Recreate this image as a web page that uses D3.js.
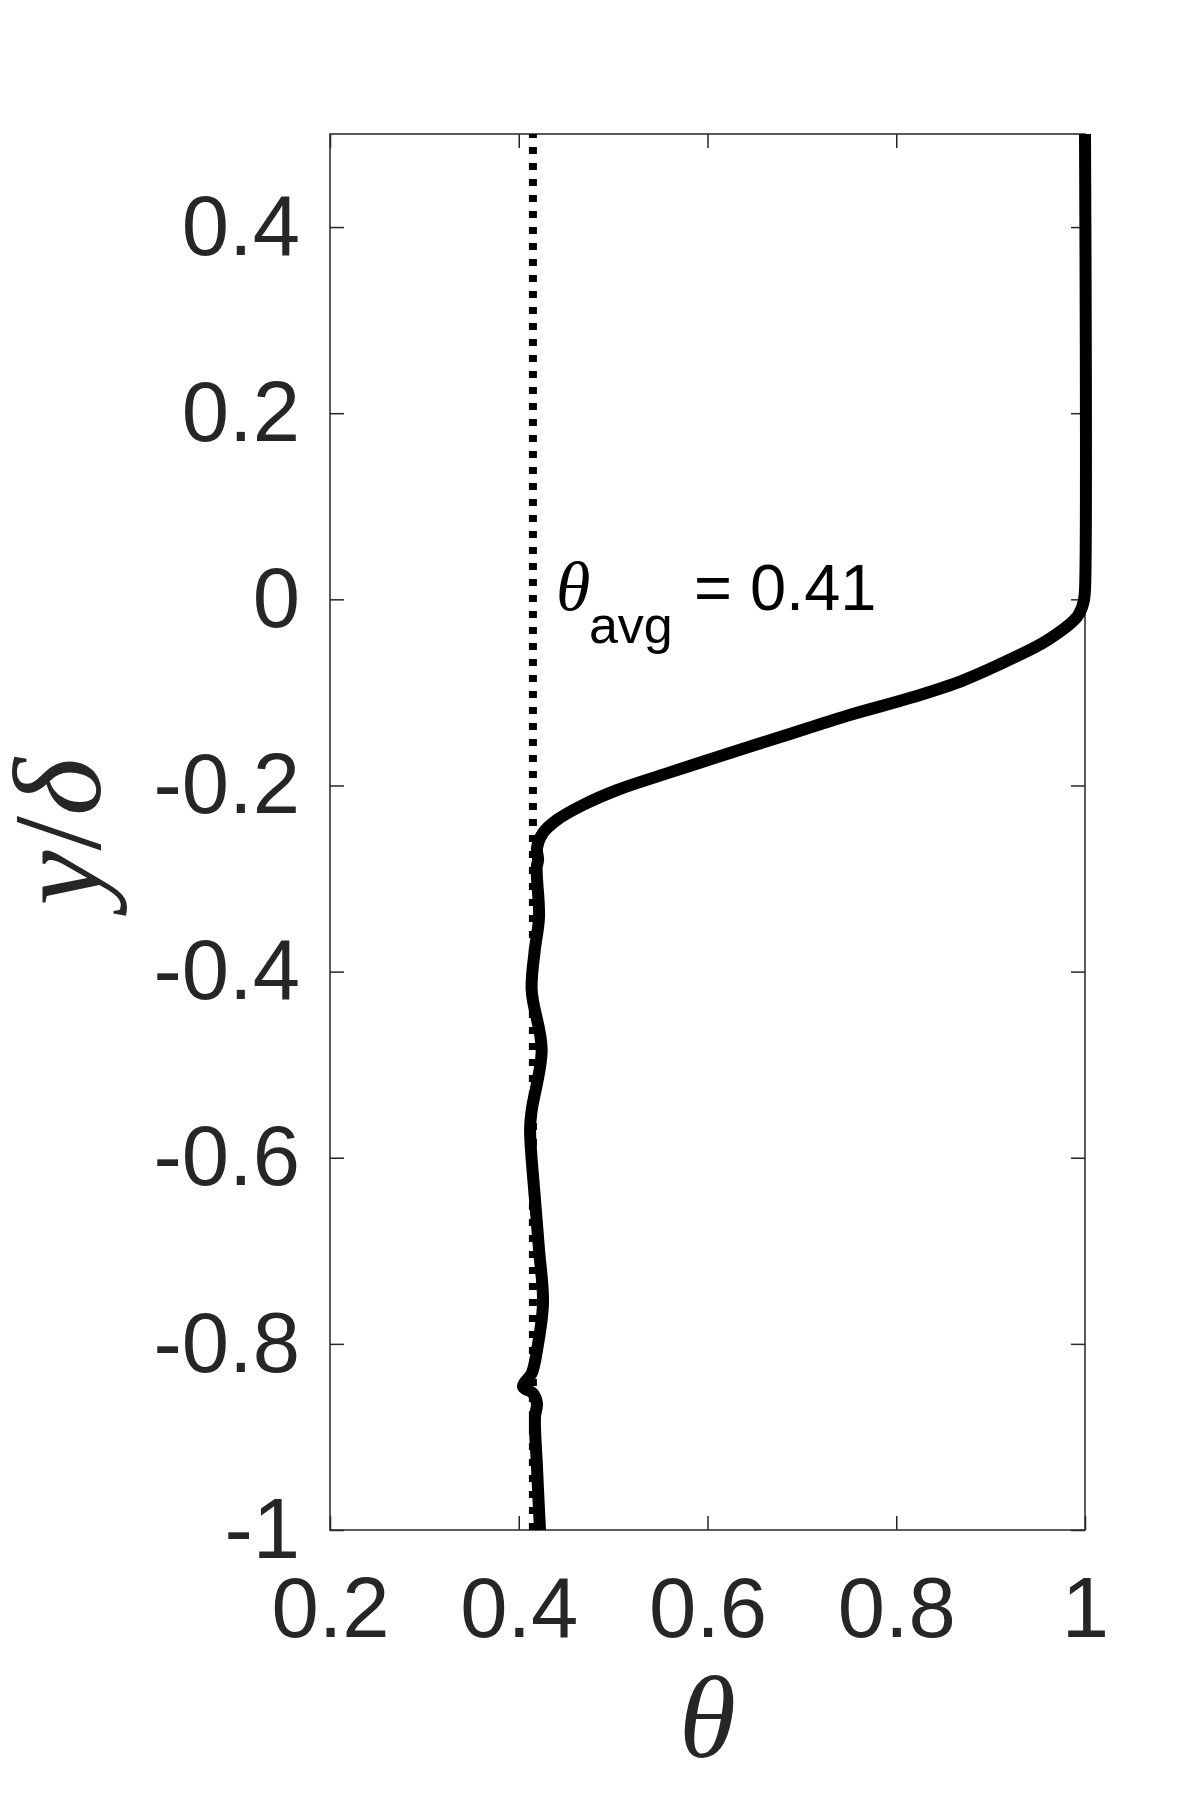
<!doctype html>
<meta charset="utf-8">
<script src="https://d3js.org/d3.v7.min.js"></script>
<style>
  body { margin: 0; background: #fff; }
  .tick text { font-family: "Liberation Sans", Arial, sans-serif; }
</style>
<body>
<svg width="1200" height="1800"></svg>
<script>
  // profile: y/delta and theta
  var yDelta = [0.5, 0.01, 0.0, -0.008, -0.019, -0.044, -0.063, -0.087, -0.105, -0.125,
    -0.148, -0.164, -0.187, -0.205, -0.221, -0.237, -0.251, -0.267, -0.280, -0.288,
    -0.341, -0.377, -0.420, -0.484, -0.549, -0.570, -0.645, -0.699, -0.756, -0.807,
    -0.831, -0.846, -0.853, -0.864, -0.879, -0.932, -1.0];
  var theta = [1.0, 1.0, 0.999, 0.997, 0.9915, 0.960, 0.924, 0.871, 0.818, 0.748,
    0.677, 0.627, 0.557, 0.504, 0.468, 0.4405, 0.4257, 0.4193, 0.4205, 0.419,
    0.4215, 0.417, 0.4137, 0.4243, 0.4137, 0.412, 0.4172, 0.4215, 0.4257, 0.4193,
    0.414, 0.4045, 0.415, 0.4193, 0.4172, 0.4193, 0.4225];

  var thetaAvg = 0.415;
  var avgLabel = "0.41";

  var xTicks = [0.2, 0.4, 0.6, 0.8, 1];
  var yTicks = [-1, -0.8, -0.6, -0.4, -0.2, 0, 0.2, 0.4];

  var svg = d3.select("svg");
  var mLeft = 330, mRight = 1085, mTop = 134, mBottom = 1530;
  var axisColor = "#262626";

  var x = d3.scaleLinear().domain([0.2, 1]).range([mLeft, mRight]);
  var y = d3.scaleLinear().domain([-1, 0.5]).range([mBottom, mTop]);

  var fmt = function (d) { return String(d); };

  // axes, ticks inside and mirrored on all sides
  function styleAxis(g) {
    g.selectAll(".domain").remove();
    g.selectAll(".tick line").attr("stroke", axisColor).attr("stroke-width", 1.5);
    g.selectAll(".tick text").attr("fill", axisColor).attr("font-size", 85);
  }

  svg.append("g")
    .attr("transform", "translate(0," + mBottom + ")")
    .call(d3.axisBottom(x).tickValues(xTicks).tickSize(-14).tickFormat(fmt))
    .call(styleAxis)
    .selectAll(".tick text").attr("dy", "0.71em").attr("y", 47);

  svg.append("g")
    .attr("transform", "translate(0," + mTop + ")")
    .call(d3.axisTop(x).tickValues(xTicks).tickSize(-14).tickFormat(""))
    .call(styleAxis);

  svg.append("g")
    .attr("transform", "translate(" + mLeft + ",0)")
    .call(d3.axisLeft(y).tickValues(yTicks).tickSize(-14).tickFormat(fmt))
    .call(styleAxis)
    .selectAll(".tick text").attr("x", -30);

  svg.append("g")
    .attr("transform", "translate(" + mRight + ",0)")
    .call(d3.axisRight(y).tickValues(yTicks).tickSize(-14).tickFormat(""))
    .call(styleAxis);

  // box
  svg.append("rect")
    .attr("x", mLeft).attr("y", mTop)
    .attr("width", mRight - mLeft).attr("height", mBottom - mTop)
    .attr("fill", "none")
    .attr("stroke", axisColor)
    .attr("stroke-width", 1.5);

  // average line
  svg.append("line")
    .attr("x1", x(thetaAvg)).attr("x2", x(thetaAvg))
    .attr("y1", y(0.5)).attr("y2", y(-1))
    .attr("stroke", "#000")
    .attr("stroke-width", 8)
    .attr("stroke-dasharray", "7,9")
    .attr("stroke-dashoffset", 3);

  // profile
  var pts = yDelta.map(function (d, i) { return [theta[i], d]; });
  var line = d3.line()
    .x(function (d) { return x(d[0]); })
    .y(function (d) { return y(d[1]); })
    .curve(d3.curveCatmullRom.alpha(0.5));

  svg.append("path")
    .datum(pts)
    .attr("d", line)
    .attr("fill", "none")
    .attr("stroke", "#000")
    .attr("stroke-width", 12)
    .attr("stroke-linejoin", "round");

  // annotation
  var ax = x(thetaAvg) + 23, ay = y(0) + 11;
  svg.append("text")
    .attr("x", ax).attr("y", ay)
    .attr("font-family", "'Liberation Serif', serif")
    .attr("font-style", "italic")
    .attr("font-size", 70)
    .text("\u03b8");
  svg.append("text")
    .attr("x", ax + 33).attr("y", ay + 33)
    .attr("font-family", "'Liberation Sans', Arial, sans-serif")
    .attr("font-size", 52)
    .text("avg");
  svg.append("text")
    .attr("x", ax + 138).attr("y", ay)
    .attr("font-family", "'Liberation Sans', Arial, sans-serif")
    .attr("font-size", 65)
    .text("= " + avgLabel);

  // axis labels
  svg.append("text")
    .attr("x", (mLeft + mRight) / 2).attr("y", 1757)
    .attr("text-anchor", "middle")
    .attr("fill", axisColor)
    .attr("font-family", "'Liberation Serif', serif")
    .attr("font-style", "italic")
    .attr("font-size", 116)
    .text("\u03b8");

  var yl = svg.append("text")
    .attr("transform", "translate(100," + (mTop + mBottom) / 2 + ") rotate(-90)")
    .attr("text-anchor", "middle")
    .attr("fill", axisColor)
    .attr("font-family", "'Liberation Serif', serif")
    .attr("font-size", 124);
  yl.append("tspan").attr("font-style", "italic").text("y");
  yl.append("tspan").text("/");
  yl.append("tspan").attr("font-style", "italic").text("\u03b4");
</script>
</body>
